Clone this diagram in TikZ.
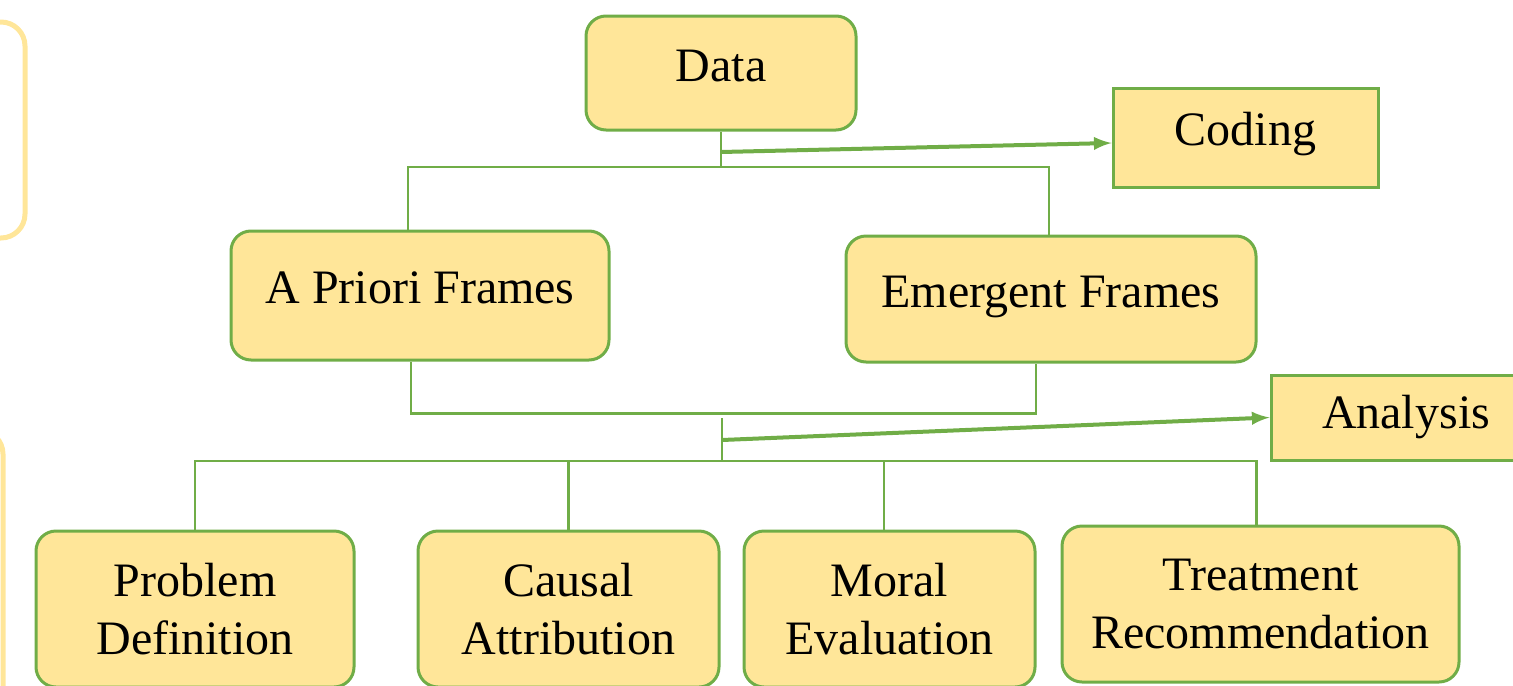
\documentclass[tikz,border=0pt]{standalone}
\usepackage{fontspec}
\setmainfont{Liberation Serif}
\definecolor{boxfill}{HTML}{FFE699}
\definecolor{boxline}{HTML}{70AD47}

\begin{document}
\begin{tikzpicture}[x=0.5pt, y=-0.5pt,
  frame/.style={draw=boxline, fill=boxfill, line width=1.5pt, rounded corners=10pt,
    align=center, inner sep=0pt, font=\fontsize{24}{29}\selectfont},
  raised/.style={text height=16pt, text depth=8pt},
  step box/.style={frame, rounded corners=0pt},
  link/.style={draw=boxline, line width=1.4pt},
  flow/.style={draw=boxline, line width=2pt, -latex}]
  \useasboundingbox (0,0) rectangle (1513,685);

  % faint boxes cut off at the left edge
  \draw[boxfill, line width=2.5pt, rounded corners=12pt] (-200,22) rectangle (25,238);
  \draw[boxfill, line width=2.5pt, rounded corners=12pt] (-200,430) rectangle (3,800);

  \node[frame, raised, minimum width=135pt, minimum height=57pt] (data) at (721,73) {Data};
  \node[step box, raised, minimum width=132.5pt, minimum height=49.5pt] (coding) at (1245.5,137.5) {Coding};
  \node[frame, raised, minimum width=189pt, minimum height=64.5pt] (apriori) at (420,295.5) {A Priori Frames};
  \node[frame, raised, minimum width=205pt, minimum height=63pt] (emergent) at (1051,299) {Emergent Frames};
  \node[step box, minimum width=135pt, minimum height=42.5pt] (analysis) at (1406,417.5) {Analysis};

  \node[frame, minimum width=159pt, minimum height=78pt] (problem) at (195,609) {Problem\\Definition};
  \node[frame, minimum width=150.5pt, minimum height=78pt] (causal) at (568.5,609) {Causal\\Attribution};
  \node[frame, minimum width=145.5pt, minimum height=78pt] (moral) at (889.5,609) {Moral\\Evaluation};
  \node[frame, minimum width=198.5pt, minimum height=78pt] (treatment) at (1260.5,604) {Treatment\\Recommendation};

  \coordinate (dj) at (721,167);
  \coordinate (ds) at (721,152);
  \coordinate (at) at (722,418);
  \coordinate (as) at (722,440);
  \coordinate (bj) at (722,461);

  % data splits into the two frame types
  \draw[link] (data.south) -- (dj);
  \draw[link] ([xshift=-6pt]apriori.north) |- (dj) -| ([xshift=-1pt]emergent.north);
  \draw[flow] (ds) -- ([yshift=-2.75pt]coding.west);

  % frames join again
  \draw[link] ([xshift=-4.5pt]apriori.south) -- ++(0,52) -| ([xshift=-7.5pt]emergent.south);
  \draw[link] (at) -- (bj);
  \draw[flow] (as) -- (analysis.west);

  % the four frame functions
  \draw[link] (problem.north) |- (bj) -| ([xshift=-2pt]treatment.north);
  \draw[link] (causal.north) -- (causal.north |- bj);
  \draw[link] ([xshift=-2.75pt]moral.north) -- ([xshift=-2.75pt]moral.north |- bj);
\end{tikzpicture}
\end{document}
